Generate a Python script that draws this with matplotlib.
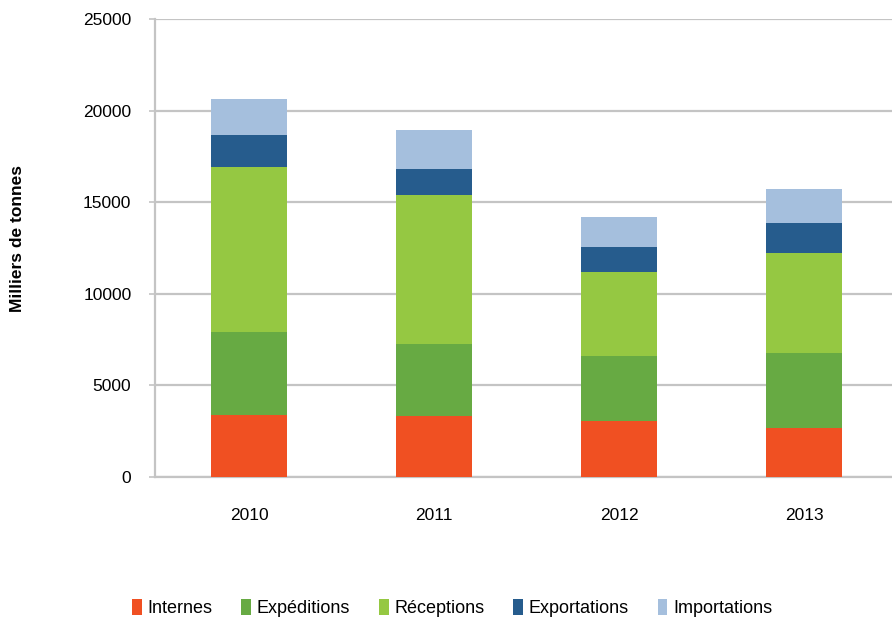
import matplotlib
matplotlib.use("Agg")
import matplotlib.pyplot as plt
import numpy as np

plt.rcParams['font.family'] = ['Liberation Sans', 'DejaVu Sans']

years = ["2010", "2011", "2012", "2013"]
internes = [3390, 3350, 3070, 2690]
expeditions = [4520, 3890, 3535, 4060]
receptions = [8995, 8135, 4600, 5460]
exportations = [1745, 1435, 1350, 1670]
importations = [1970, 2115, 1635, 1840]

series_names = ["Internes", "Expéditions", "Réceptions", "Exportations", "Importations"]
series_colors = ["#F05022", "#67AA43", "#95C842", "#265C8D", "#A5BFDD"]
series_values = [internes, expeditions, receptions, exportations, importations]

fig = plt.figure(figsize=(8.92, 6.18), dpi=100)
ax = fig.add_axes([155/892, 1-477/618, 1-155/892, (477-19)/618])

x = np.arange(len(years))
bottom = np.zeros(len(years))
handles = []
for name, col, vals in zip(series_names, series_colors, series_values):
    b = ax.bar(x, vals, width=0.41, bottom=bottom, color=col, label=name,
               edgecolor='none', zorder=3)
    handles.append(b)
    bottom += np.array(vals)

ax.set_ylim(0, 25000)
ax.set_xlim(-0.508, 3.476)
ax.set_yticks(np.arange(0, 25001, 5000))
ax.set_xticks(x)
ax.set_xticklabels(years)
ax.yaxis.grid(True, color='#c4c4c4', linewidth=1.6, zorder=0)
ax.set_axisbelow(True)
for s in ['top', 'right']:
    ax.spines[s].set_visible(False)
for s in ['left', 'bottom']:
    ax.spines[s].set_color('#c4c4c4')
    ax.spines[s].set_linewidth(1.6)
ax.tick_params(axis='y', length=4, color='#c4c4c4', width=1.2, pad=13, labelsize=12.5)
ax.tick_params(axis='x', length=0, pad=22, labelsize=12.5)

fig.text(18/892, 1-238/618, "Milliers de tonnes", rotation=90, ha='center', va='center',
         fontsize=12.5, fontweight='bold')

fig.legend(handles=handles, labels=series_names, loc='center',
           bbox_to_anchor=(452/892, 1-608/618), ncol=5, frameon=False,
           handlelength=0.55, handleheight=1.0, handletextpad=0.3,
           columnspacing=1.6, fontsize=13)

fig.savefig("out.png", dpi=100)
